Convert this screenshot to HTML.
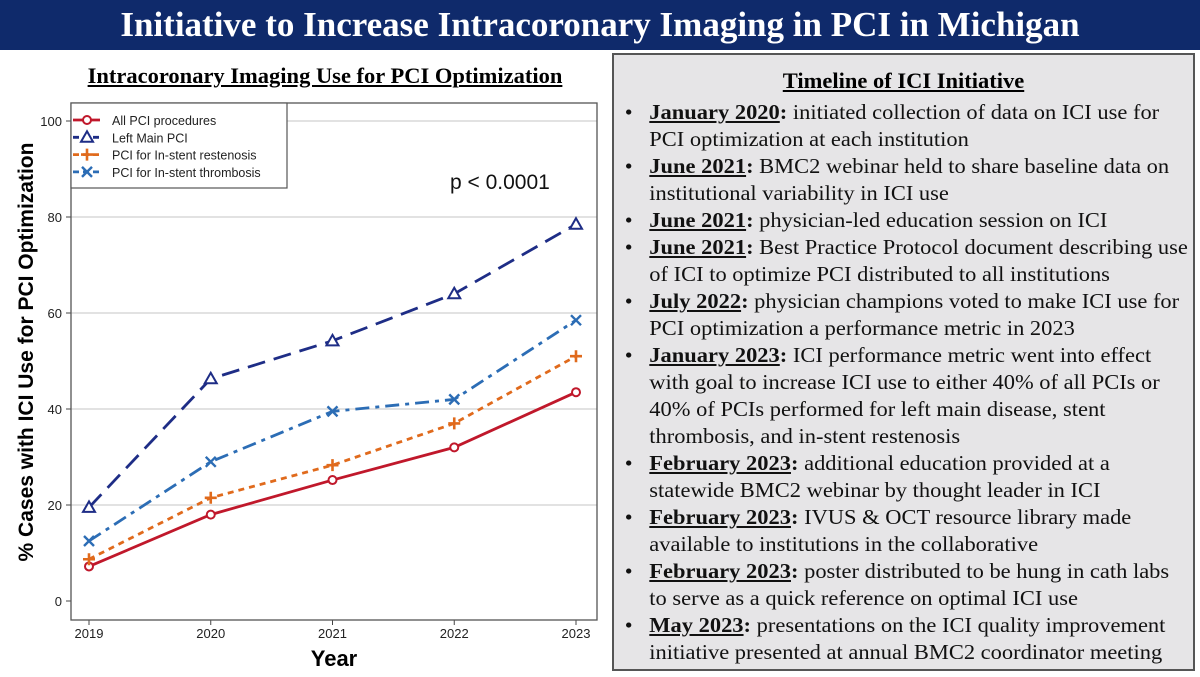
<!DOCTYPE html>
<html><head><meta charset="utf-8"><style>
body{margin:0;width:1200px;height:677px;background:#fff;position:relative;overflow:hidden;font-family:"Liberation Serif",serif}
#hdr{position:absolute;left:0;top:0;width:1200px;height:50px;background:#0f2a6b;color:#fff;font-weight:bold;font-size:35px;text-align:center;line-height:50px}
#sub{position:absolute;left:40px;width:570px;top:63px;text-align:center;font-weight:bold;font-size:22.5px;text-decoration:underline}
#panel{position:absolute;left:612px;top:53px;width:583px;height:618px;background:#e6e5e7;border:2px solid #555;box-sizing:border-box}
#panel h2{margin:0;position:absolute;top:13px;width:100%;text-align:center;font-size:22.5px;text-decoration:underline}
#panel ul{position:absolute;top:44px;left:0;margin:0;padding:0 0 0 33px;list-style:none;font-size:21px;line-height:27px;color:#111;transform:scaleX(1.07);transform-origin:0 0;white-space:nowrap}
#panel li{position:relative}
#panel li:before{content:"•";position:absolute;left:-23px}
#panel b{text-decoration:underline}
svg{position:absolute;left:0;top:0}
</style></head><body>
<div id="hdr">Initiative to Increase Intracoronary Imaging in PCI in Michigan</div>
<div id="sub">Intracoronary Imaging Use for PCI Optimization</div>
<div id="panel">
<h2>Timeline of ICI Initiative</h2>
<ul>
<li><b>January 2020</b><b style="text-decoration:none">:</b> initiated collection of data on ICI use for<br>PCI optimization at each institution</li>
<li><b>June 2021</b><b style="text-decoration:none">:</b> BMC2 webinar held to share baseline data on<br>institutional variability in ICI use</li>
<li><b>June 2021</b><b style="text-decoration:none">:</b> physician-led education session on ICI</li>
<li><b>June 2021</b><b style="text-decoration:none">:</b> Best Practice Protocol document describing use<br>of ICI to optimize PCI distributed to all institutions</li>
<li><b>July 2022</b><b style="text-decoration:none">:</b> physician champions voted to make ICI use for<br>PCI optimization a performance metric in 2023</li>
<li><b>January 2023</b><b style="text-decoration:none">:</b> ICI performance metric went into effect<br>with goal to increase ICI use to either 40% of all PCIs or<br>40% of PCIs performed for left main disease, stent<br>thrombosis, and in-stent restenosis</li>
<li><b>February 2023</b><b style="text-decoration:none">:</b> additional education provided at a<br>statewide BMC2 webinar by thought leader in ICI</li>
<li><b>February 2023</b><b style="text-decoration:none">:</b> IVUS &amp; OCT resource library made<br>available to institutions in the collaborative</li>
<li><b>February 2023</b><b style="text-decoration:none">:</b> poster distributed to be hung in cath labs<br>to serve as a quick reference on optimal ICI use</li>
<li><b>May 2023</b><b style="text-decoration:none">:</b> presentations on the ICI quality improvement<br>initiative presented at annual BMC2 coordinator meeting</li>
</ul></div>
<svg id="chart" width="612" height="677"></svg>
<script>
const years=[2019,2020,2021,2022,2023];
const allPci=[7.2,18,25.2,32,43.5];
const leftMain=[19.5,46.3,54.2,64,78.5];
const restenosis=[8.7,21.5,28.3,37,51];
const thrombosis=[12.5,29,39.5,42,58.5];
const yTicks=[0,20,40,60,80,100];
const NS="http://www.w3.org/2000/svg";
const svg=document.getElementById('chart');
function X(yr){return 89+(yr-2019)*(576-89)/4;}
function Y(v){return 601-v*4.8;}
function mk(t,a,p){const e=document.createElementNS(NS,t);for(const k in a)e.setAttribute(k,a[k]);(p||svg).appendChild(e);return e;}
yTicks.forEach(v=>{if(v>0){const g=mk('line',{x1:71,x2:597,y1:Y(v),y2:Y(v),stroke:'#d0d0d0','stroke-width':1.2});

}
const tk=mk('line',{x1:66,x2:71,y1:Y(v),y2:Y(v),stroke:'#444'});


const t=mk('text',{x:62,y:Y(v)+5,'text-anchor':'end','font-size':13,'font-family':'Liberation Sans, sans-serif',fill:'#222'});t.textContent=v;

});
years.forEach(yr=>{const tk=mk('line',{x1:X(yr),x2:X(yr),y1:620,y2:625,stroke:'#444'});


const t=mk('text',{x:X(yr),y:638,'text-anchor':'middle','font-size':13,'font-family':'Liberation Sans, sans-serif',fill:'#222'});t.textContent=yr;

});
const box=mk('rect',{x:71,y:103,width:526,height:517,fill:'none',stroke:'#555','stroke-width':1.3});


const series=[
{name:'All PCI procedures',vals:allPci,color:'#c0182b',dash:'',m:'circle'},
{name:'Left Main PCI',vals:leftMain,color:'#1e2d86',dash:'18,9',m:'tri'},
{name:'PCI for In-stent restenosis',vals:restenosis,color:'#e06a1c',dash:'6,5',m:'plus'},
{name:'PCI for In-stent thrombosis',vals:thrombosis,color:'#2c6db5',dash:'14,6,4,6',m:'x'}];
function marker(m,x,y,c,p){
 if(m==='circle')return mk('circle',{cx:x,cy:y,r:4,fill:'#fff',stroke:c,'stroke-width':2},p);
 if(m==='tri')return mk('path',{d:`M${x},${y-6}L${x+6},${y+4.5}L${x-6},${y+4.5}Z`,fill:'#fff',stroke:c,'stroke-width':2},p);
 if(m==='plus')return mk('path',{d:`M${x-6},${y}H${x+6}M${x},${y-6}V${y+6}`,stroke:c,'stroke-width':2.6},p);
 return mk('path',{d:`M${x-5},${y-5}L${x+5},${y+5}M${x-5},${y+5}L${x+5},${y-5}`,stroke:c,'stroke-width':2.4},p);}
series.forEach(s=>{
 const g=mk('g',{});
 
 
 const pts=s.vals.map((v,i)=>X(years[i])+','+Y(v)).join(' ');
 const l=mk('polyline',{points:pts,fill:'none',stroke:s.color,'stroke-width':2.8,'stroke-dasharray':s.dash},g);
 
 
 s.vals.forEach((v,i)=>{const e=marker(s.m,X(years[i]),Y(v),s.color,g);
 
 });
});
const lg=mk('g',{});


mk('rect',{x:71,y:103,width:216,height:85,fill:'#fff',stroke:'#555','stroke-width':1.2},lg);
series.forEach((s,i)=>{const y=120+i*17.3;
 const e=mk('g',{},lg);
 
 
 mk('line',{x1:73,x2:100,y1:y,y2:y,stroke:s.color,'stroke-width':2.8,'stroke-dasharray':s.dash?'6,4':''},e);
 marker(s.m,87,y,s.color,e);
 const t=mk('text',{x:112,y:y+5,'font-size':12.5,'font-family':'Liberation Sans, sans-serif',fill:'#222'},e);t.textContent=s.name;});
const p=mk('text',{x:450,y:189,'font-size':21,'font-family':'Liberation Sans, sans-serif',fill:'#111'});p.textContent='p < 0.0001';


const xt=mk('text',{x:334,y:666,'text-anchor':'middle','font-size':22,'font-weight':'bold','font-family':'Liberation Sans, sans-serif'});xt.textContent='Year';


const yt=mk('text',{x:0,y:0,'text-anchor':'middle','font-size':21,'font-weight':'bold','font-family':'Liberation Sans, sans-serif',transform:'translate(33,352) rotate(-90)'});yt.textContent='% Cases with ICI Use for PCI Optimization';


</script>
</body></html>
